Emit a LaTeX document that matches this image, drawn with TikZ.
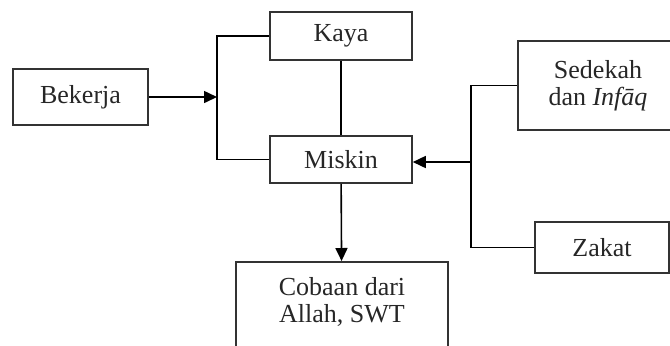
\documentclass[tikz,border=0pt]{standalone}
\usepackage{fontspec}
\setmainfont{Liberation Serif}
\usetikzlibrary{arrows.meta}

\begin{document}
\begin{tikzpicture}[x=0.5pt, y=-0.5pt, line width=0.8pt,
	box/.style={draw=black!80, align=center, text=black!85, font=\fontsize{13}{13.5}\selectfont},
	arr/.style={-{Triangle[length=6.5pt,width=6pt]}}]
	\useasboundingbox (0,0) rectangle (670,345);
	\clip (0,0) rectangle (670,345);

	\node[box, minimum width=67.5pt, minimum height=28pt] at (80.5,97) (bekerja) {Bekerja};
	\node[box, minimum width=71pt, minimum height=24pt] at (341,36) (kaya) {Kaya};
	\node[box, minimum width=71pt, minimum height=23.5pt] at (341,159.5) (miskin) {Miskin};
	\node[box, minimum width=80pt, minimum height=44.5pt] at (598,85.5) (sedekah-infaq) {Sedekah\\dan \textit{Infāq}};
	\node[box, minimum width=67pt, minimum height=25.5pt] at (602,247.5) (zakat) {Zakat};
	\node[box, minimum width=106pt, inner ysep=8pt, text depth=40pt, anchor=north] at (342,261) (cobaan) {Cobaan dari\\Allah, SWT};

	\coordinate (left-join) at (217,97);
	\coordinate (right-join) at (471,162);

	\draw (kaya.west) -- (kaya.west -| left-join) |- (miskin.west);
	\draw[arr] (bekerja) -- (left-join);
	\draw (kaya) -- (miskin);
	\draw[arr] (miskin) -- (cobaan);

	\draw (sedekah-infaq.west) -- (sedekah-infaq.west -| right-join) |- (zakat.west);
	\draw[arr] (right-join) -- (miskin.east |- right-join);
\end{tikzpicture}
\end{document}
